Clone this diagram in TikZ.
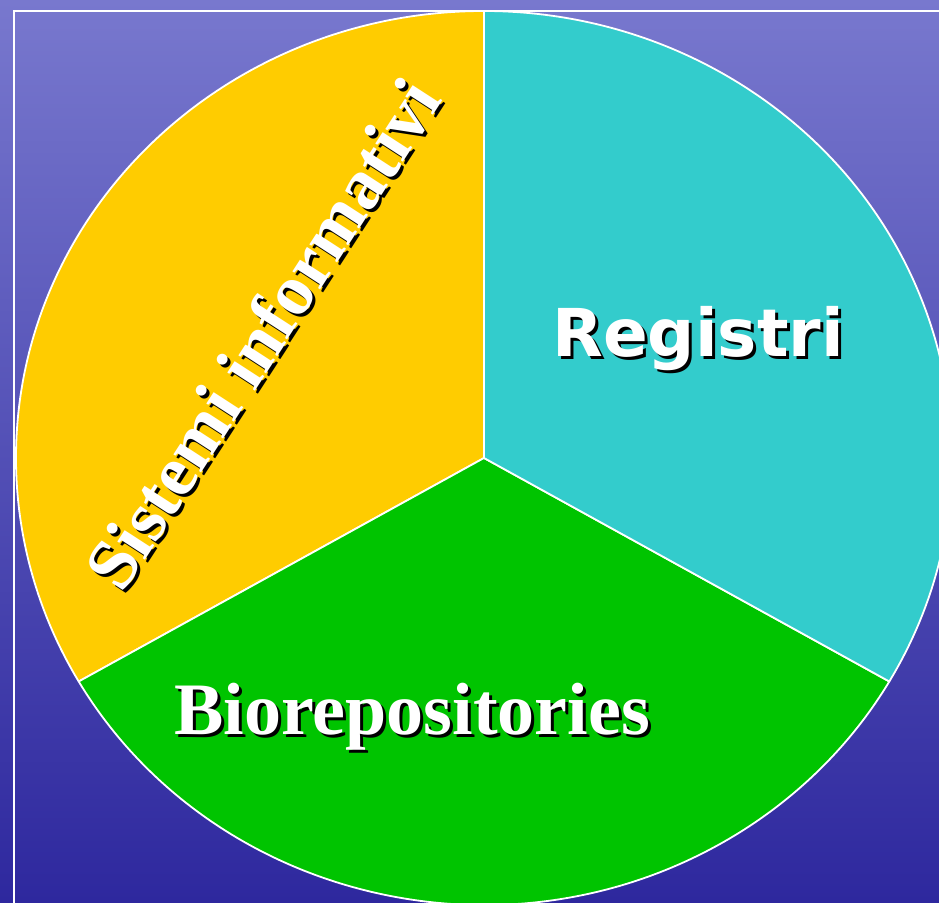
\documentclass[tikz,border=0pt]{standalone}
\usepackage{fontspec}
\setmainfont{Liberation Serif}
\newfontfamily\labelsans{DejaVu Sans}
\usetikzlibrary{calc}

\definecolor{bgtop}{RGB}{120,120,206}
\definecolor{bgbottom}{RGB}{46,40,158}
\definecolor{sliceyellow}{RGB}{255,204,0}
\definecolor{slicecyan}{RGB}{51,204,204}
\definecolor{slicegreen}{RGB}{0,196,0}

\tikzset{
  slice/.style={draw=white, line width=1.8pt, line join=round},
  pielabel/.style={text=white, inner sep=0pt},
  pieshadow/.style={text=black, inner sep=0pt},
}

% white text with a black drop shadow
\newcommand{\shadowlabel}[4]{%
  \node[pieshadow, #3] (#1-shadow) at ($(#2)+(3,-3)$) {#4};
  \node[pielabel, #3] (#1) at (#2) {#4};
}

\begin{document}
\begin{tikzpicture}[x=1pt, y=1pt]

\useasboundingbox (0,0) rectangle (939,902);
\clip (0,0) rectangle (939,902);

% Background ------------------------------
\shade[top color=bgtop, bottom color=bgbottom] (0,0) rectangle (939,902);
\draw[white, line width=1.5pt] (14,-10) -- (14,891) -- (960,891);

% Pie chart ------------------------------
\pgfmathsetmacro{\rx}{468}
\pgfmathsetmacro{\ry}{447}

\begin{scope}[shift={(484,444)}]
    \coordinate (pie_center) at (0,0);
    \filldraw[slice, fill=sliceyellow] (pie_center) -- ({\rx*cos(90)},{\ry*sin(90)})
        arc[start angle=90, end angle=210, x radius=\rx, y radius=\ry] -- cycle;
    \filldraw[slice, fill=slicegreen] (pie_center) -- ({\rx*cos(210)},{\ry*sin(210)})
        arc[start angle=210, end angle=330, x radius=\rx, y radius=\ry] -- cycle;
    \filldraw[slice, fill=slicecyan] (pie_center) -- ({\rx*cos(330)},{\ry*sin(330)})
        arc[start angle=330, end angle=450, x radius=\rx, y radius=\ry] -- cycle;
\end{scope}

% Labels ------------------------------
\coordinate (registri_pos) at (698,545);
\coordinate (bio_pos) at (412,167);
\coordinate (sistemi_pos) at (262,568);

\shadowlabel{registri}{registri_pos}{anchor=base}
    {\labelsans\bfseries\fontsize{66}{70}\selectfont Registri}
\shadowlabel{bio}{bio_pos}{anchor=base}
    {\bfseries\fontsize{74}{78}\selectfont Biorepositories}
\shadowlabel{sistemi}{sistemi_pos}{anchor=center, rotate=57}
    {\bfseries\fontsize{72}{76}\selectfont Sistemi informativi}

\end{tikzpicture}
\end{document}
